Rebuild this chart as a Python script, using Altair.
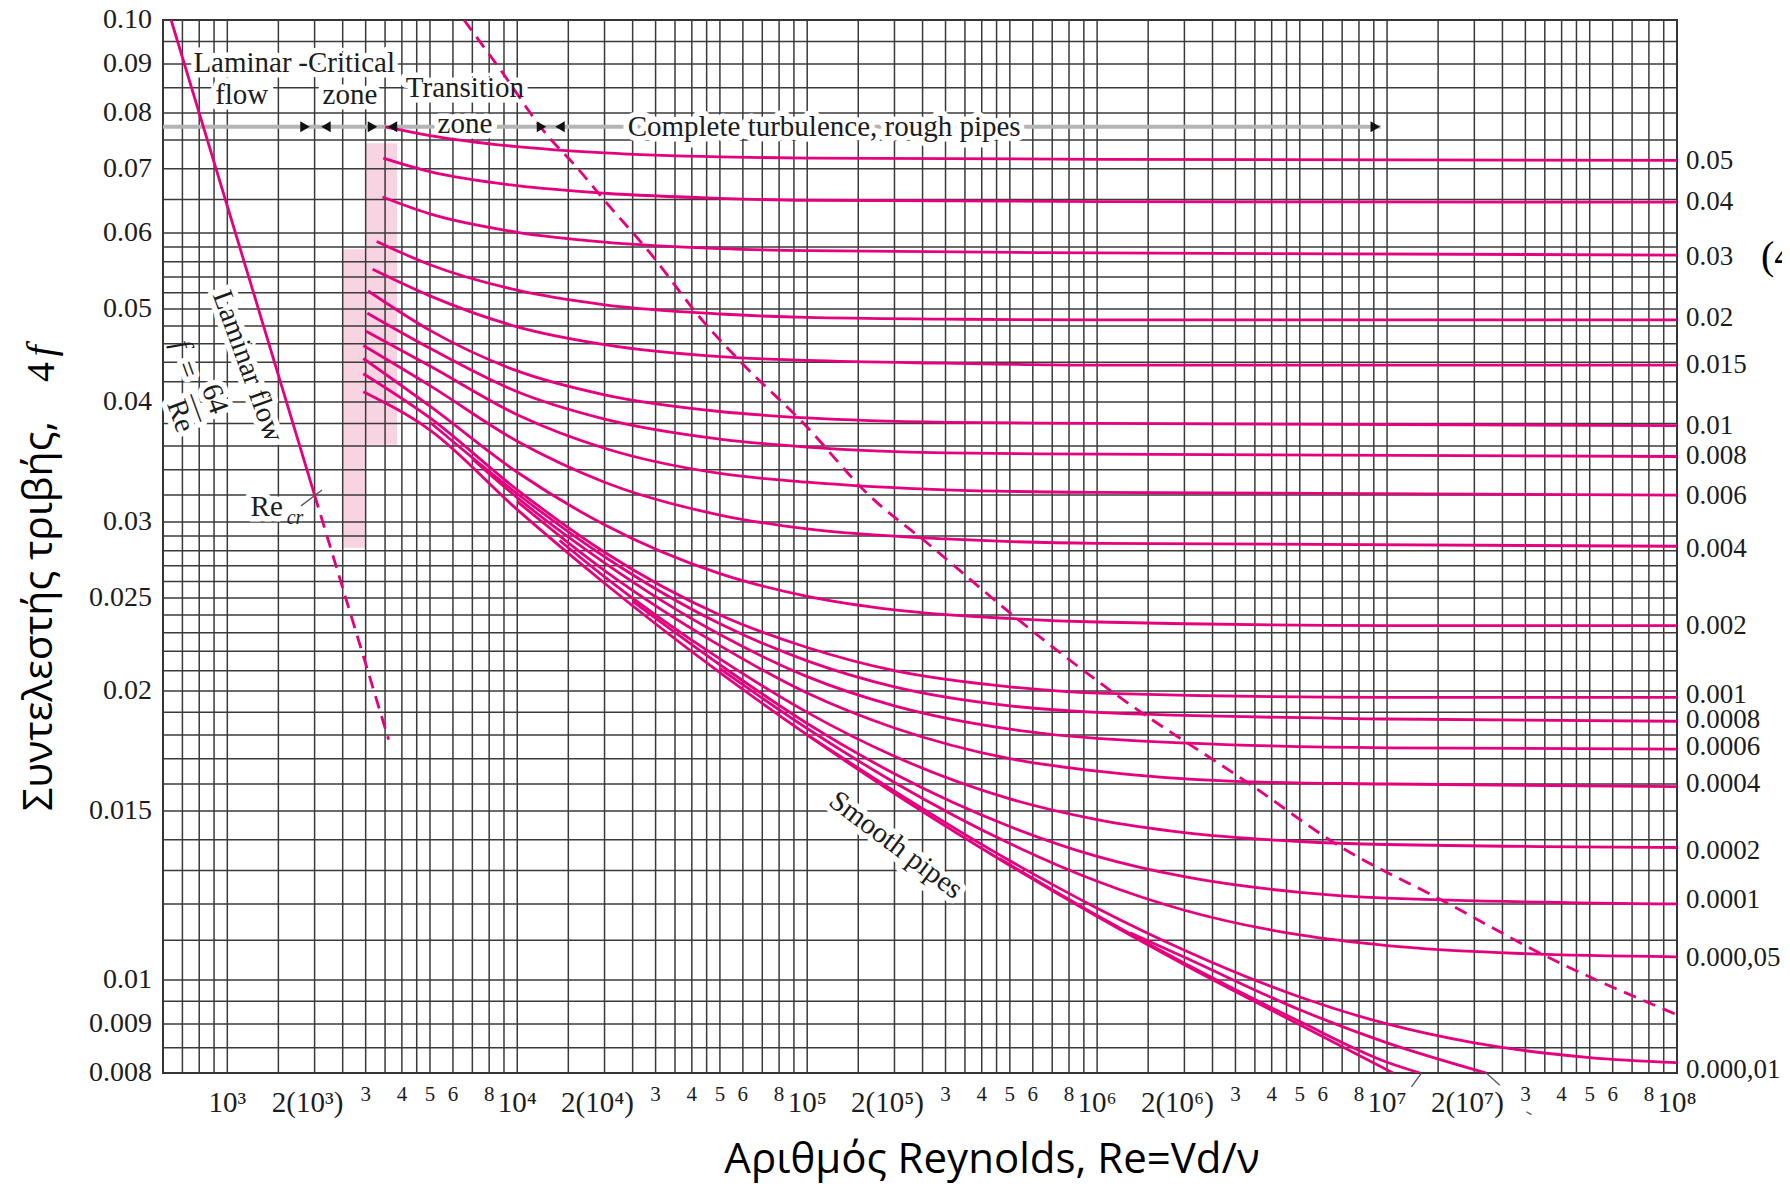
import altair as alt
import pandas as pd

MAGENTA = "#E5007E"
PINK = "#F8D3E2"
GRID = "#3a3a3a"
INK = "#1c1c1c"
SERIF = "Liberation Serif"
SANS = "Open Sans"
W, H = 1514, 1053

# ---------------- grid / ticks ----------------
grid_mult = [1, 1.5, 2, 2.5, 3, 3.5, 4, 4.5, 5, 6, 7, 8, 9]
grid_decades = [1e2, 1e3, 1e4, 1e5, 1e6, 1e7]
x_grid = [m * d for d in grid_decades for m in grid_mult if 600 <= m * d <= 1e8] + [1e8]
y_grid = [0.1, 0.095, 0.09, 0.085, 0.08, 0.075, 0.07, 0.065, 0.06, 0.058, 0.056, 0.054,
          0.052, 0.05, 0.048, 0.046, 0.044, 0.042, 0.04, 0.038, 0.036, 0.034, 0.032, 0.03,
          0.029, 0.028, 0.027, 0.026, 0.025, 0.024, 0.023, 0.022, 0.021, 0.02, 0.019, 0.018,
          0.017, 0.016, 0.015, 0.014, 0.013, 0.012, 0.011, 0.01, 0.0095, 0.009, 0.0085, 0.008]

y_tick_vals = [0.1, 0.09, 0.08, 0.07, 0.06, 0.05, 0.04, 0.03, 0.025, 0.02, 0.015, 0.01, 0.009, 0.008]
y_tick_text = ["0.10", "0.09", "0.08", "0.07", "0.06", "0.05", "0.04", "0.03", "0.025",
               "0.02", "0.015", "0.01", "0.009", "0.008"]

x_major_vals = [1e3, 1e4, 1e5, 1e6, 1e7, 1e8]
x_major_text = ["10³", "10⁴", "10⁵", "10⁶", "10⁷", "10⁸"]
x_two_vals = [2e3, 2e4, 2e5, 2e6, 2e7]
x_two_text = ["2(10³)", "2(10⁴)", "2(10⁵)", "2(10⁶)", "2(10⁷)"]
x_minor_vals = [3e3, 4e3, 5e3, 6e3, 8e3, 3e4, 4e4, 5e4, 6e4, 8e4, 3e5, 4e5, 5e5, 6e5, 8e5,
                3e6, 4e6, 5e6, 6e6, 8e6, 3e7, 4e7, 5e7, 6e7, 8e7]
x_minor_text = ["3", "4", "5", "6", "8"] * 5

# ---------------- curves ----------------
re_005 = [3500, 5000, 1e4, 2e4, 5e4, 1e5, 1e6, 1e8]
f_005 = [0.0774, 0.0758, 0.0738, 0.0727, 0.0720, 0.0718, 0.0716, 0.0714]
re_004 = [3450, 5000, 1e4, 2e4, 5e4, 1e5, 1e6, 1e8]
f_004 = [0.0718, 0.0695, 0.0672, 0.0660, 0.0652, 0.0649, 0.0647, 0.0646]
re_003 = [3430, 5000, 1e4, 2e4, 5e4, 1e5, 1e6, 1e8]
f_003 = [0.0654, 0.0628, 0.0601, 0.0587, 0.0578, 0.0575, 0.0572, 0.0569]
re_002 = [3275, 5000, 1e4, 2e4, 5e4, 1e5, 3e5, 1e6, 1e8]
f_002 = [0.0588, 0.0556, 0.0523, 0.0505, 0.0494, 0.0490, 0.0488, 0.0487, 0.0487]
re_0015 = [3170, 5000, 1e4, 2e4, 5e4, 1e5, 3e5, 1e6, 1e8]
f_0015 = [0.0550, 0.0516, 0.0479, 0.0459, 0.0446, 0.0442, 0.0439, 0.0437, 0.0437]
re_001 = [3060, 5000, 1e4, 2e4, 5e4, 1e5, 3e5, 1e6, 1e8]
f_001 = [0.0522, 0.0475, 0.0431, 0.0407, 0.0391, 0.0385, 0.0381, 0.0380, 0.0378]
re_0008 = [3040, 5000, 1e4, 2e4, 5e4, 1e5, 3e5, 1e6, 1e8]
f_0008 = [0.0495, 0.0455, 0.0410, 0.0384, 0.0366, 0.0359, 0.0354, 0.0353, 0.0351]
re_0006 = [3010, 5000, 1e4, 2e4, 5e4, 1e5, 3e5, 1e6, 1e8]
f_0006 = [0.0474, 0.0436, 0.0388, 0.0358, 0.0337, 0.0330, 0.0324, 0.0322, 0.0320]
re_0004 = [2945, 5000, 1e4, 2e4, 5e4, 1e5, 3e5, 1e6, 1e8]
f_0004 = [0.0458, 0.0416, 0.0364, 0.0330, 0.0305, 0.0295, 0.0288, 0.0285, 0.0283]
re_0002 = [2945, 5000, 1e4, 2e4, 5e4, 1e5, 2e5, 5e5, 1e6, 1e7, 1e8]
f_0002 = [0.0444, 0.0396, 0.0338, 0.0298, 0.0265, 0.0251, 0.0243, 0.0238, 0.0236, 0.0234, 0.0234]
re_0001 = [2945, 5000, 1e4, 2e4, 5e4, 1e5, 2e5, 5e5, 1e6, 1e7, 1e8]
f_0001 = [0.0428, 0.0385, 0.0324, 0.0279, 0.0240, 0.0222, 0.0210, 0.0202, 0.0199, 0.0197, 0.0197]
re_00008 = [5000, 1e4, 2e4, 5e4, 1e5, 2e5, 5e5, 1e6, 1e7, 1e8]
f_00008 = [0.0381, 0.0321, 0.0276, 0.0235, 0.0215, 0.0202, 0.0193, 0.0190, 0.0187, 0.0186]
re_00006 = [7000, 1e4, 2e4, 5e4, 1e5, 2e5, 5e5, 1e6, 1e7, 1e8]
f_00006 = [0.0349, 0.0318, 0.0272, 0.0229, 0.0207, 0.0193, 0.01825, 0.01785, 0.01745, 0.0174]
re_00004 = [1e4, 2e4, 5e4, 1e5, 2e5, 5e5, 1e6, 3e6, 1e7, 1e8]
f_00004 = [0.0315, 0.0267, 0.0223, 0.0199, 0.0183, 0.0170, 0.0165, 0.0161, 0.0160, 0.0159]
re_00002 = [1.4e4, 2e4, 5e4, 1e5, 2e5, 5e5, 1e6, 2e6, 5e6, 1e7, 1e8]
f_00002 = [0.0287, 0.0263, 0.0216, 0.0190, 0.0171, 0.01544, 0.01469, 0.01424, 0.01394,
           0.01384, 0.01374]
re_00001 = [2.5e4, 5e4, 1e5, 2e5, 5e5, 1e6, 2e6, 5e6, 1e7, 1e8]
f_00001 = [0.0248, 0.0213, 0.0185, 0.0164, 0.01445, 0.01345, 0.01281, 0.01234, 0.01217, 0.0120]
re_000005 = [5e4, 1e5, 2e5, 5e5, 1e6, 2e6, 5e6, 1e7, 3e7, 1e8]
f_000005 = [0.0211, 0.01828, 0.01606, 0.01387, 0.01267, 0.01182, 0.01114, 0.01086, 0.01065,
            0.01057]
re_000001 = [1e5, 2e5, 5e5, 1e6, 2e6, 5e6, 1e7, 2e7, 5e7, 1e8]
f_000001 = [0.0180, 0.01573, 0.01331, 0.01188, 0.01074, 0.0096, 0.0090, 0.0086, 0.0083, 0.0082]
re_smooth = [2945, 5000, 1e4, 2e4, 5e4, 1e5, 2e5, 5e5, 1e6, 2e6, 5e6, 1.05e7]
f_smooth = [0.0410, 0.0374, 0.0309, 0.0259, 0.0209, 0.0180, 0.01564, 0.01316, 0.01164, 0.01037,
            0.00898, 0.0080]
re_e5e6 = [1.3e6, 2e6, 5e6, 1e7, 2.2e7]
f_e5e6 = [0.0112, 0.01056, 0.00931, 0.0086, 0.0080]
re_e1e6 = [4.6e5, 1e6, 2e6, 5e6, 1e7, 1.3e7]
f_e1e6 = [0.01338, 0.01167, 0.01041, 0.00905, 0.00821, 0.0080]

re_lam = [640, 2000]
f_lam = [0.1, 0.032]
re_lam_dash = [2000, 3600]
f_lam_dash = [0.032, 0.0178]
re_bound = [6550, 8600, 12800, 15600, 20050, 28840, 43360, 59600, 98000, 161400, 265700,
            548000, 1.186e6, 3.36e6, 6.95e6, 1.528e7, 3.55e7, 1e8]
f_bound = [0.1, 0.0894, 0.0756, 0.0709, 0.0648, 0.0571, 0.0487, 0.0439, 0.0379, 0.0321, 0.02835,
           0.02359, 0.01974, 0.0160, 0.01375, 0.01213, 0.01058, 0.0092]

right_text = ["0.05", "0.04", "0.03", "0.02", "0.015", "0.01", "0.008", "0.006", "0.004", "0.002",
              "0.001", "0.0008", "0.0006", "0.0004", "0.0002", "0.0001", "0.000,05", "0.000,01"]
right_f = [0.0713, 0.0646, 0.0567, 0.0489, 0.0437, 0.0378, 0.0351, 0.0319, 0.0281, 0.0234,
           0.0198, 0.01864, 0.0175, 0.0160, 0.01364, 0.0121, 0.01055, 0.00806]

# critical-zone shading
band_re1 = [2500, 3000]
band_re2 = [3000, 3850]
band_f1 = [0.0282, 0.0361]
band_f2 = [0.0577, 0.0744]

# zone arrow row
arrow_f = 0.0774
arrow_line_re = [600, 9.5e6]
arrow_re = [1853, 2189, 3168, 3712, 12120, 14040, 9.11e6]
arrow_dir = ["triangle-right", "triangle-left", "triangle-right", "triangle-left",
             "triangle-right", "triangle-left", "triangle-right"]

# annotations
ann_text = ["Laminar", "-Critical", "flow", "zone", "Transition", "zone",
            "Complete turbulence, rough pipes", "Laminar flow", "=", "64", "―", "Re", "Re",
            "Smooth pipes"]
ann_re = [1128, 2580, 1121, 2649, 6600, 6600, 114400, 1179, 729, 907, 791, 690, 1367, 202400]
ann_f = [0.0901, 0.0901, 0.0836, 0.0836, 0.0849, 0.0780, 0.0774, 0.0436, 0.04325, 0.0403,
         0.0395, 0.0387, 0.0311, 0.01383]
ann_angle = [0, 0, 0, 0, 0, 0, 0, 70, 70, 70, 70, 70, 0, 37]
ital_text = ["f", "cr"]
ital_re = [696, 1712]
ital_f = [0.0459, 0.0303]
ital_angle = [70, 0]
ital_size = [29, 20]

lead_re1 = [1796, 1.314e7, 2.2e7, 3.025e7]
lead_re2 = [2121, 1.214e7, 2.447e7, 3.147e7]
lead_f1 = [0.03118, 0.0080, 0.0080, 0.00729]
lead_f2 = [0.03239, 0.00774, 0.00777, 0.00724]

# ---------------- build ----------------
xs = alt.Scale(type="log", domain=[600, 1e8], nice=False)
ys = alt.Scale(type="log", domain=[0.008, 0.1], nice=False)


def X(f):
    return alt.X(f, type="quantitative", scale=xs, axis=None)


def Y(f):
    return alt.Y(f, type="quantitative", scale=ys, axis=None)


curves = [("0.05", re_005, f_005), ("0.04", re_004, f_004), ("0.03", re_003, f_003),
          ("0.02", re_002, f_002), ("0.015", re_0015, f_0015), ("0.01", re_001, f_001),
          ("0.008", re_0008, f_0008), ("0.006", re_0006, f_0006), ("0.004", re_0004, f_0004),
          ("0.002", re_0002, f_0002), ("0.001", re_0001, f_0001), ("0.0008", re_00008, f_00008),
          ("0.0006", re_00006, f_00006), ("0.0004", re_00004, f_00004),
          ("0.0002", re_00002, f_00002), ("0.0001", re_00001, f_00001),
          ("0.00005", re_000005, f_000005), ("0.00001", re_000001, f_000001),
          ("smooth", re_smooth, f_smooth), ("5e-6", re_e5e6, f_e5e6), ("1e-6", re_e1e6, f_e1e6),
          ("laminar", re_lam, f_lam)]
rows = []
for name, rr, ff in curves:
    for i, (r, f) in enumerate(zip(rr, ff)):
        rows.append({"curve": name, "Re": r, "f": f, "i": i})
df_curves = pd.DataFrame(rows)

drows = []
for name, rr, ff in [("lam", re_lam_dash, f_lam_dash), ("bound", re_bound, f_bound)]:
    for i, (r, f) in enumerate(zip(rr, ff)):
        drows.append({"curve": name, "Re": r, "f": f, "i": i})
df_dash = pd.DataFrame(drows)

bands = alt.Chart(pd.DataFrame({"r1": band_re1, "r2": band_re2, "f1": band_f1, "f2": band_f2})) \
    .mark_rect(color=PINK).encode(x=X("r1"), x2="r2", y=Y("f1"), y2="f2")

vgrid = alt.Chart(pd.DataFrame({"Re": x_grid})).mark_rule(color=GRID, strokeWidth=1.5) \
    .encode(x=X("Re"))
hgrid = alt.Chart(pd.DataFrame({"f": y_grid})).mark_rule(color=GRID, strokeWidth=1.5) \
    .encode(y=Y("f"))

arrow_line = alt.Chart(pd.DataFrame({"r1": [arrow_line_re[0]], "r2": [arrow_line_re[1]],
                                     "f": [arrow_f]})) \
    .mark_rule(color="#b4b4b4", strokeWidth=4).encode(x=X("r1"), x2="r2", y=Y("f"))

df_ann = pd.DataFrame({"t": ann_text, "Re": ann_re, "f": ann_f, "a": ann_angle})
halo = alt.Chart(df_ann).mark_text(font=SERIF, fontSize=29, color="white", stroke="white",
                                   strokeWidth=11, strokeJoin="round", baseline="middle") \
    .encode(x=X("Re"), y=Y("f"), text="t:N", angle=alt.Angle("a:Q", scale=None))
ann = alt.Chart(df_ann).mark_text(font=SERIF, fontSize=29, color=INK, baseline="middle") \
    .encode(x=X("Re"), y=Y("f"), text="t:N", angle=alt.Angle("a:Q", scale=None))
df_it = pd.DataFrame({"t": ital_text, "Re": ital_re, "f": ital_f, "a": ital_angle, "s": ital_size})
ital = alt.Chart(df_it).mark_text(font=SERIF, fontStyle="italic", color=INK, baseline="middle") \
    .encode(x=X("Re"), y=Y("f"), text="t:N", angle=alt.Angle("a:Q", scale=None),
            size=alt.Size("s:Q", scale=None))

lines = alt.Chart(df_curves).mark_line(color=MAGENTA, strokeWidth=2.8, interpolate="monotone",
                                       clip=True) \
    .encode(x=X("Re"), y=Y("f"), detail="curve:N", order="i:Q")
dashes = alt.Chart(df_dash).mark_line(color=MAGENTA, strokeWidth=2.8, strokeDash=[13, 8],
                                      interpolate="monotone", clip=True) \
    .encode(x=X("Re"), y=Y("f"), detail="curve:N", order="i:Q")

leaders = alt.Chart(pd.DataFrame({"r1": lead_re1, "r2": lead_re2, "f1": lead_f1, "f2": lead_f2})) \
    .mark_rule(color="#555", strokeWidth=1.3).encode(x=X("r1"), x2="r2", y=Y("f1"), y2="f2")

arrows = alt.Chart(pd.DataFrame({"Re": arrow_re, "d": arrow_dir, "f": [arrow_f] * len(arrow_re)})) \
    .mark_point(filled=True, size=120, color="#111", opacity=1) \
    .encode(x=X("Re"), y=Y("f"), shape=alt.Shape("d:N", scale=None))

ytl = alt.Chart(pd.DataFrame({"f": y_tick_vals, "t": y_tick_text})) \
    .mark_text(font=SERIF, fontSize=28, color=INK, align="right", baseline="middle") \
    .encode(x=alt.value(-11), y=Y("f"), text="t:N")

xmaj = alt.Chart(pd.DataFrame({"Re": x_major_vals, "t": x_major_text})) \
    .mark_text(font=SERIF, fontSize=29, color=INK, align="center", baseline="alphabetic") \
    .encode(x=X("Re"), y=alt.value(1092), text="t:N")
xtwo = alt.Chart(pd.DataFrame({"Re": x_two_vals, "t": x_two_text})) \
    .mark_text(font=SERIF, fontSize=29, color=INK, align="center", baseline="alphabetic", dx=-7) \
    .encode(x=X("Re"), y=alt.value(1092), text="t:N")
xmin = alt.Chart(pd.DataFrame({"Re": x_minor_vals, "t": x_minor_text})) \
    .mark_text(font=SERIF, fontSize=21, color=INK, align="center", baseline="alphabetic") \
    .encode(x=X("Re"), y=alt.value(1081), text="t:N")

rlab = alt.Chart(pd.DataFrame({"f": right_f, "t": right_text})) \
    .mark_text(font=SERIF, fontSize=27, color=INK, align="left", baseline="middle") \
    .encode(x=alt.value(1523), y=Y("f"), text="t:N")

one = pd.DataFrame({"k": [0]})
xtitle = alt.Chart(one).mark_text(text="Αριθμός Reynolds, Re=Vd/ν", font=SANS, fontSize=42,
                                  color="#000", align="center", baseline="middle") \
    .encode(x=alt.value(829), y=alt.value(1140))
ytitle = alt.Chart(one).mark_text(text="Συντελεστής τριβής,", font=SANS, fontSize=41,
                                  color="#000", align="center", baseline="middle", angle=270) \
    .encode(x=alt.value(-123), y=alt.value(596))
y4 = alt.Chart(one).mark_text(text="4", font=SERIF, fontSize=40, color="#000",
                              align="center", baseline="middle", angle=270) \
    .encode(x=alt.value(-121), y=alt.value(352))
yf = alt.Chart(one).mark_text(text="f", font=SERIF, fontSize=40, fontStyle="italic", color="#000",
                              align="center", baseline="middle", angle=270) \
    .encode(x=alt.value(-121), y=alt.value(331))
cut = alt.Chart(one).mark_text(text="(4", font=SERIF, fontSize=40, color="#000",
                               align="left", baseline="middle") \
    .encode(x=alt.value(1598), y=alt.value(237))

chart = alt.layer(
    bands, vgrid, hgrid, arrow_line, halo, lines, dashes, leaders, ann, ital, arrows,
    ytl, xmaj, xtwo, xmin, rlab, xtitle, ytitle, y4, yf, cut
).properties(
    width=W, height=H, autosize="none",
    padding={"left": 155, "top": 12, "right": 105, "bottom": 114},
    background="white",
).configure_view(stroke="#2b2b2b", strokeWidth=2)

chart.save("out.html", embed_options={"renderer": "svg", "actions": False})
